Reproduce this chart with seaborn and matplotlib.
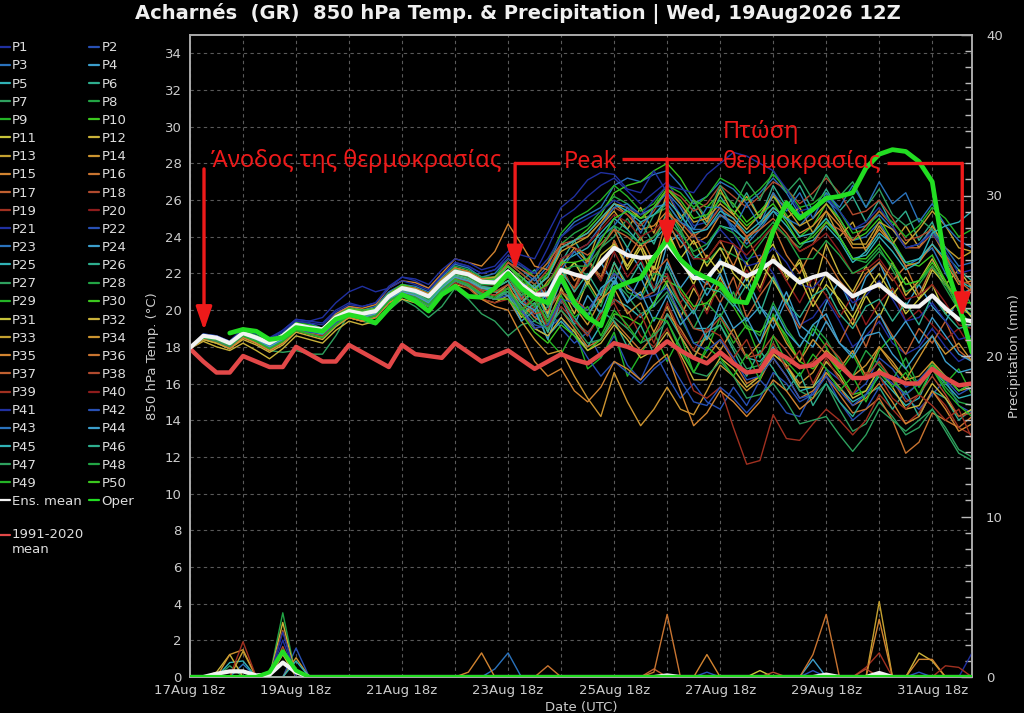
import numpy as np
import pandas as pd
import matplotlib
matplotlib.use("Agg")
import matplotlib.pyplot as plt
import matplotlib.dates as mdates
from matplotlib.lines import Line2D
from matplotlib.ticker import MultipleLocator
import seaborn as sns

# ---------------- data ----------------
start_time = "2026-08-17 18:00"
n_steps = 60
times = pd.date_range(start_time, periods=n_steps, freq="6h")

clim_mean = [17.9, 17.2, 16.6, 16.6, 17.5, 17.2, 16.9, 16.9, 18.0, 17.6, 17.2, 17.2,
             18.1, 17.7, 17.3, 16.9, 18.1, 17.6, 17.5, 17.4, 18.2, 17.7, 17.2, 17.5,
             17.8, 17.3, 16.8, 17.2, 17.6, 17.3, 17.1, 17.6, 18.2, 18.0, 17.7, 17.7,
             18.3, 17.8, 17.4, 17.1, 17.7, 17.1, 16.6, 16.7, 17.8, 17.4, 16.9, 17.0,
             17.6, 17.0, 16.3, 16.3, 16.6, 16.3, 16.0, 16.0, 16.8, 16.3, 15.9, 16.0]

ens_mean = [17.95, 18.6, 18.5, 18.2, 18.75, 18.5, 18.2, 18.6, 19.2, 19.05, 18.95, 19.6,
            19.95, 19.8, 19.95, 20.75, 21.2, 21.05, 20.75, 21.5, 22.1, 21.95, 21.55, 21.5,
            22.1, 21.4, 20.85, 20.85, 22.2, 21.95, 21.75, 22.6, 23.4, 23.0, 22.85, 22.9,
            23.6, 22.7, 21.75, 21.75, 22.6, 22.3, 21.85, 22.2, 22.7, 22.1, 21.5, 21.8,
            22.0, 21.4, 20.75, 21.1, 21.4, 20.8, 20.2, 20.2, 20.8, 20.1, 19.5, 19.4]

oper = [None, None, None, 18.75, 18.95, 18.85, 18.4, 18.5, 19.05, 18.95, 18.85, 19.5,
        19.75, 19.6, 19.3, 20.1, 20.85, 20.5, 19.95, 20.85, 21.3, 20.75, 20.7, 21.2,
        22.0, 21.2, 20.65, 20.4, 21.8, 20.4, 19.6, 19.15, 21.2, 21.5, 21.75, 22.85,
        23.85, 22.75, 22.1, 21.75, 21.4, 20.5, 20.4, 22.1, 24.3, 25.85, 25.0, 25.5,
        26.1, 26.2, 26.4, 27.75, 28.5, 28.75, 28.65, 28.1, 27.0, 22.5, 20.3, 17.7]

member_temp = [
 # P1
 [17.9,18.5,18.4,18.3, 19.0,18.8,18.4,18.9, 19.5,19.4,19.6,20.4, 21.0,21.3,21.0,21.2, 21.8,21.6,21.2,21.9,
  22.6,22.4,22.0,22.2, 23.0,22.5,22.0,23.4, 25.0,25.5,26.2,26.8, 27.2,26.5,25.8,26.4, 27.0,25.8,24.6,24.8,
  25.6,24.2,22.8,23.0, 22.0,20.4,19.2,19.6, 20.6,19.4,18.0,18.6, 19.4,18.2,17.6,18.0, 19.0,18.0,17.2,17.6],
 # P2
 [17.9,18.6,18.6,18.3, 18.8,18.6,18.1,18.5, 19.1,18.9,18.7,19.4, 19.7,19.5,19.8,20.6, 21.0,20.8,20.3,21.1,
  21.7,21.4,21.0,20.8, 21.4,20.8,19.6,20.2, 19.0,18.2,18.8,17.4, 18.6,17.0,16.2,17.8, 16.4,15.2,16.0,15.0,
  14.6,15.8,14.8,16.2, 15.4,14.4,14.2,15.6, 16.4,15.0,14.0,14.6, 15.8,16.4,15.2,14.6, 15.4,16.2,14.8,14.4],
 # P3
 [17.9,18.7,18.6,18.2, 18.9,18.6,18.3,18.7, 19.4,19.3,19.0,19.8, 20.2,20.0,20.2,21.0, 21.4,21.3,21.0,21.8,
  22.5,22.3,21.8,22.0, 22.8,22.2,21.6,22.4, 24.0,24.8,25.2,25.6, 26.8,27.2,27.0,27.4, 27.6,26.8,25.8,26.2,
  27.0,26.6,25.8,26.4, 27.2,26.4,25.2,25.4, 26.2,25.0,23.8,24.0, 24.8,23.6,22.4,22.8, 23.4,22.0,20.8,21.2],
 # P4
 [17.9,18.5,18.5,18.2, 18.7,18.4,18.2,18.6, 19.2,19.1,19.0,19.6, 20.0,19.9,20.0,20.9, 21.3,21.2,20.8,21.6,
  22.2,22.0,21.6,21.6, 22.0,20.6,21.4,19.8, 21.6,20.2,21.8,22.6, 21.4,23.4,22.2,21.0, 23.6,24.2,22.0,21.4,
  22.8,20.6,21.8,20.2, 19.4,21.0,19.2,18.6, 20.4,21.6,20.0,21.8, 22.6,21.0,20.2,21.4, 20.2,19.4,20.6,19.6],
 # P5
 [17.9,18.6,18.4,18.1, 18.6,18.3,18.0,18.4, 19.0,18.8,18.7,19.3, 19.6,19.4,19.6,20.4, 20.8,20.6,20.2,21.0,
  21.6,21.4,20.8,20.6, 21.2,20.2,19.0,18.6, 19.4,18.6,18.0,19.2, 20.6,20.2,19.6,20.4, 21.4,20.2,19.0,19.0,
  19.8,18.6,17.4,17.2, 18.0,16.8,15.6,15.8, 16.6,15.8,15.0,15.4, 16.4,15.6,14.8,15.2, 16.8,16.0,15.2,15.4],
 # P6
 [17.9,18.6,18.5,18.3, 18.8,18.5,18.3,18.7, 19.3,19.1,19.0,19.7, 20.0,19.8,20.0,20.8, 21.2,21.0,20.7,21.5,
  22.1,21.9,21.5,21.6, 22.4,21.6,22.2,20.8, 22.6,23.8,22.6,24.0, 24.6,23.4,24.8,23.6, 25.4,24.2,25.6,24.6,
  26.2,25.2,26.4,25.0, 26.8,25.6,26.8,25.4, 26.6,25.4,26.2,24.8, 26.0,24.6,25.4,23.8, 24.8,23.0,22.2,21.6],
 # P7
 [17.9,18.5,18.4,18.0, 18.6,18.2,17.8,17.7, 17.8,17.6,17.6,18.6, 19.8,19.4,19.2,20.0, 20.6,20.2,19.6,20.2,
  21.2,20.6,19.8,19.4, 18.6,19.2,19.4,20.2, 21.0,20.4,19.8,20.6, 21.6,20.8,19.8,20.2, 21.0,19.6,18.2,18.4,
  19.2,18.0,16.8,17.0, 18.2,17.0,15.6,15.2, 16.0,14.6,13.4,13.8, 15.0,14.2,13.2,13.6, 14.6,13.4,12.2,11.8],
 # P8
 [17.9,18.6,18.5,18.2, 18.8,18.6,18.3,18.6, 19.2,19.1,19.0,19.6, 20.0,19.9,20.1,20.9, 21.4,21.2,20.9,21.7,
  22.4,22.2,21.8,21.8, 22.6,22.0,21.4,22.0, 23.6,24.2,24.6,25.4, 26.2,25.8,25.0,25.2, 25.6,24.4,23.0,22.6,
  23.4,23.0,22.6,23.6, 24.6,24.0,23.4,24.2, 25.0,24.0,22.8,22.6, 23.4,22.2,21.0,21.4, 22.4,21.2,20.0,19.8],
 # P9
 [17.9,18.6,18.5,18.1, 18.6,18.4,18.0,18.5, 19.1,18.9,18.8,19.4, 19.8,19.6,19.8,20.6, 21.0,20.8,20.4,21.2,
  21.8,21.6,21.2,21.0, 21.0,19.6,20.2,18.4, 17.6,19.0,16.8,17.4, 18.8,16.4,17.6,18.8, 17.2,18.6,16.6,17.8,
  19.6,18.2,19.2,17.4, 19.8,18.4,17.2,19.0, 18.0,16.6,17.6,16.2, 17.8,18.6,16.8,15.8, 17.2,16.0,16.8,15.4],
 # P10
 [17.9,18.6,18.5,18.3, 18.9,18.6,18.3,18.7, 19.3,19.2,19.0,19.7, 20.1,20.0,20.1,20.9, 21.4,21.2,20.9,21.7,
  22.3,22.1,21.7,21.8, 22.4,21.6,21.0,22.0, 23.4,23.8,24.4,25.2, 26.4,26.8,27.0,27.6, 28.0,27.2,26.0,25.6,
  26.4,25.8,24.8,25.4, 26.2,25.2,24.0,24.6, 25.8,25.0,23.8,24.2, 25.0,23.8,22.6,22.4, 23.0,21.6,20.0,19.2],
 # P11
 [17.9,18.4,18.2,17.9, 18.6,18.3,17.9,18.4, 19.0,18.8,18.6,19.3, 19.7,19.6,19.7,20.5, 21.0,20.8,20.5,21.2,
  21.9,21.7,21.4,21.4, 22.0,20.8,21.2,19.8, 22.4,21.0,22.8,21.6, 23.8,22.2,23.4,21.6, 24.2,22.8,21.4,23.0,
  22.0,23.6,21.6,22.8, 23.6,21.8,22.6,20.6, 22.0,20.4,19.2,20.8, 19.6,21.2,19.8,20.6, 21.4,19.8,20.4,19.6],
 # P12
 [17.9,18.3,18.0,17.8, 18.2,17.8,17.35,17.9, 18.6,18.4,18.2,18.9, 19.4,19.2,19.4,20.2, 20.6,20.4,20.0,20.8,
  21.4,21.2,20.6,20.4, 20.8,19.6,20.4,18.8, 21.2,19.8,21.6,20.4, 22.6,21.2,20.8,22.4, 21.4,19.6,21.2,20.0,
  21.8,20.4,22.6,21.2, 23.0,21.6,22.8,21.0, 23.6,22.0,21.0,22.4, 21.2,22.6,20.8,21.6, 22.8,21.4,22.2,21.2],
 # P13
 [17.9,18.5,18.4,18.0, 18.7,18.4,18.1,18.5, 19.2,19.0,18.9,19.6, 19.9,19.7,19.9,20.7, 21.1,20.9,20.6,21.4,
  22.0,21.8,21.4,21.4, 22.2,21.4,20.6,21.6, 22.4,23.4,22.6,24.6, 25.4,24.4,25.6,24.2, 26.4,25.0,26.0,24.8,
  26.6,25.2,26.2,25.0, 26.4,25.0,25.6,24.2, 25.4,24.0,24.8,23.2, 24.6,23.6,24.6,23.4, 24.6,23.4,22.8,23.2],
 # P14
 [17.9,18.4,18.3,17.9, 18.5,18.2,17.8,18.2, 18.9,18.7,18.6,19.2, 19.6,19.4,19.6,20.4, 20.8,20.6,20.2,21.0,
  21.6,21.4,20.8,20.6, 20.6,19.4,18.4,17.6, 17.8,16.4,15.2,14.2, 16.6,15.0,13.7,14.6, 15.8,14.6,14.3,15.6,
  17.0,16.4,15.6,16.2, 17.6,17.0,16.0,16.6, 17.8,17.2,16.4,17.0, 18.0,17.2,16.2,16.4, 17.2,16.4,15.6,15.8],
 # P15
 [17.9,18.5,18.4,18.1, 18.8,18.5,18.2,18.6, 19.3,19.1,19.0,19.8, 20.2,20.1,20.3,21.2, 21.6,21.5,21.2,22.0,
  22.8,22.6,22.4,23.2, 24.7,23.6,22.4,22.2, 23.4,23.8,24.2,25.0, 25.8,25.2,24.4,24.6, 25.4,24.6,23.6,24.0,
  25.2,24.8,24.0,24.6, 25.6,25.0,24.2,24.6, 25.4,24.6,23.4,23.4, 24.4,23.6,22.4,22.6, 23.6,22.6,21.4,21.6],
 # P16
 [17.9,18.5,18.3,18.0, 18.6,18.3,17.9,18.3, 19.0,18.8,18.6,19.3, 19.7,19.5,19.7,20.5, 20.9,20.7,20.3,21.1,
  21.7,21.5,21.0,20.8, 21.2,20.4,19.6,19.2, 20.0,19.0,18.0,18.4, 19.4,18.6,17.8,18.6, 19.8,19.0,17.8,17.4,
  18.4,17.2,16.0,16.4, 17.4,16.4,15.2,15.6, 16.4,15.4,14.4,14.6, 15.2,14.0,12.2,12.8, 14.4,14.0,13.6,14.2],
 # P17
 [17.9,18.5,18.3,18.0, 18.6,18.4,18.0,18.4, 19.0,18.8,18.7,19.4, 19.8,19.6,19.8,20.6, 21.0,20.8,20.4,21.2,
  21.8,21.6,21.2,21.2, 21.8,20.6,21.4,19.6, 22.0,21.2,22.8,21.8, 23.8,22.4,23.6,22.0, 22.8,21.0,20.0,21.6,
  20.4,21.8,19.6,20.8, 21.8,20.2,19.0,20.6, 19.4,18.2,19.6,18.0, 19.8,18.6,17.6,19.0, 18.2,19.4,17.8,17.2],
 # P18
 [17.9,18.6,18.5,18.2, 18.8,18.5,18.2,18.6, 19.2,19.0,18.9,19.6, 19.9,19.8,20.0,20.8, 21.2,21.0,20.7,21.5,
  22.1,21.9,21.5,21.6, 22.6,22.0,21.4,22.2, 23.6,23.8,24.0,24.8, 25.6,25.2,24.6,25.4, 26.6,26.2,25.4,25.8,
  26.8,26.2,25.6,26.2, 27.0,26.6,25.8,26.4, 27.2,26.4,25.2,25.4, 26.0,25.0,23.8,24.0, 24.4,23.0,21.6,21.4],
 # P19
 [17.9,18.4,18.3,18.0, 18.6,18.3,17.9,18.3, 18.9,18.7,18.5,19.2, 19.6,19.4,19.6,20.4, 20.8,20.6,20.2,21.0,
  21.5,21.2,20.6,20.4, 20.6,19.8,19.0,19.2, 20.2,19.4,18.8,19.6, 20.6,20.0,18.6,18.0, 19.0,17.4,15.6,15.2,
  15.8,13.6,11.6,11.8, 14.3,13.0,12.9,13.8, 14.6,14.0,13.2,14.0, 15.4,14.6,13.8,14.4, 15.6,14.8,13.6,13.2],
 # P20
 [17.9,18.6,18.5,18.2, 18.7,18.5,18.2,18.5, 19.1,19.0,18.9,19.5, 19.9,19.7,19.9,20.7, 21.1,21.0,20.6,21.4,
  22.0,21.8,21.4,21.4, 21.8,21.0,20.0,21.4, 22.4,21.0,22.6,21.6, 23.2,21.8,22.8,21.2, 22.0,20.4,21.4,19.8,
  21.6,20.6,22.2,21.0, 22.8,21.6,20.4,21.8, 20.8,19.6,20.8,19.2, 20.4,21.2,19.4,20.0, 19.2,18.4,19.0,17.8],
 # P21
 [17.9,18.6,18.5,18.3, 18.9,18.7,18.4,18.8, 19.4,19.3,19.2,19.9, 20.3,20.2,20.4,21.3, 21.8,21.7,21.4,22.2,
  22.8,22.6,22.2,22.4, 23.2,23.0,22.8,24.2, 25.6,26.2,27.1,27.5, 27.4,26.6,26.4,27.6, 26.4,25.2,24.0,23.6,
  24.4,23.6,22.4,22.6, 23.4,22.6,21.4,21.2, 22.0,21.4,20.4,20.8, 21.6,20.6,19.4,19.6, 20.4,19.4,18.4,18.6],
 # P22
 [17.9,18.5,18.4,18.1, 18.7,18.5,18.1,18.4, 19.0,18.8,18.6,19.3, 19.7,19.5,19.7,20.5, 20.9,20.6,20.2,21.0,
  21.6,21.3,20.8,20.6, 20.8,20.0,19.2,19.0, 19.6,18.6,17.4,16.4, 17.2,16.6,16.0,16.8, 17.4,16.2,15.0,14.8,
  15.8,15.2,14.4,15.2, 16.6,16.0,15.0,15.4, 16.8,16.2,15.4,16.0, 17.4,16.8,15.8,16.2, 17.0,16.4,15.6,16.0],
 # P23
 [17.9,18.6,18.5,18.2, 18.8,18.6,18.2,18.6, 19.2,19.0,18.9,19.6, 20.0,19.8,20.0,20.8, 21.3,21.1,20.8,21.6,
  22.2,22.0,21.6,21.6, 22.0,21.4,20.8,21.4, 22.8,23.2,23.6,24.6, 25.6,25.8,25.2,25.6, 26.4,25.6,24.4,24.4,
  25.2,24.6,23.6,24.4, 25.4,25.0,24.6,25.4, 26.0,25.4,24.4,24.6, 25.2,24.4,23.4,23.6, 24.4,23.4,22.4,22.6],
 # P24
 [17.9,18.5,18.5,18.2, 18.7,18.5,18.1,18.5, 19.1,18.9,18.8,19.5, 19.9,19.7,19.9,20.7, 21.1,20.9,20.5,21.3,
  21.9,21.7,21.2,21.0, 20.8,19.4,20.0,18.4, 20.6,19.2,20.8,19.8, 21.6,20.4,21.8,20.2, 22.6,21.2,22.2,20.8,
  22.0,20.4,19.4,20.2, 19.0,20.6,18.6,18.0, 19.4,18.2,17.6,19.0, 19.8,18.4,19.4,18.2, 19.6,18.6,17.6,17.2],
 # P25
 [17.9,18.6,18.5,18.2, 18.8,18.5,18.2,18.6, 19.2,19.1,18.9,19.6, 20.0,19.8,20.0,20.8, 21.2,21.0,20.7,21.5,
  22.2,22.0,21.5,21.6, 22.2,21.4,20.6,21.0, 22.6,23.0,23.4,24.2, 25.0,24.4,23.6,23.8, 24.6,23.8,22.8,23.4,
  24.6,24.4,23.8,24.6, 25.4,24.6,23.6,23.8, 24.6,23.8,22.6,23.2, 24.2,23.6,22.6,22.8, 23.6,22.8,21.6,21.2],
 # P26
 [17.9,18.5,18.4,18.1, 18.6,18.4,18.0,18.4, 19.0,18.8,18.7,19.4, 19.8,19.6,19.8,20.6, 21.0,20.8,20.4,21.2,
  21.8,21.5,21.0,20.8, 21.0,19.8,20.4,18.8, 20.6,19.6,18.6,20.0, 19.4,18.0,19.2,17.6, 19.8,18.6,17.4,18.8,
  19.2,17.8,16.4,17.8, 16.8,15.6,16.6,14.8, 16.0,15.0,14.2,15.4, 15.8,14.6,15.6,14.2, 15.6,15.2,14.0,14.6],
 # P27
 [17.9,18.6,18.5,18.2, 18.8,18.5,18.2,18.6, 19.2,19.0,18.9,19.6, 20.0,19.8,20.0,20.8, 21.2,21.0,20.7,21.5,
  22.1,21.9,21.5,21.4, 21.8,20.8,21.4,20.2, 21.6,22.6,21.8,23.4, 24.0,25.0,23.8,25.2, 25.8,24.8,26.0,25.0,
  26.8,25.6,27.0,26.0, 27.6,26.4,27.2,26.0, 27.4,26.2,27.0,25.6, 26.6,25.2,24.6,25.0, 24.4,22.8,21.6,20.2],
 # P28
 [17.9,18.5,18.4,18.2, 18.7,18.4,18.1,18.5, 19.1,18.9,18.8,19.4, 19.8,19.7,19.8,20.6, 21.0,20.8,20.5,21.3,
  21.9,21.6,21.1,21.0, 21.2,20.0,20.8,19.2, 21.0,20.4,21.4,20.2, 22.2,21.0,20.6,22.0, 21.8,20.2,19.0,20.4,
  19.6,21.0,19.2,18.6, 20.4,19.0,18.0,19.2, 18.4,17.2,16.4,17.8, 17.0,16.2,17.4,15.8, 16.8,15.8,15.0,14.8],
 # P29
 [17.9,18.6,18.5,18.3, 18.9,18.6,18.3,18.7, 19.3,19.2,19.0,19.7, 20.1,19.9,20.1,20.9, 21.3,21.2,20.9,21.7,
  22.3,22.1,21.7,21.8, 22.8,22.4,21.8,22.6, 24.2,25.0,25.4,26.0, 26.8,26.2,25.4,25.8, 26.8,26.4,25.6,26.2,
  27.2,26.8,26.0,26.6, 27.4,26.6,25.6,25.8, 26.4,25.4,24.2,24.4, 25.4,24.8,24.0,24.6, 25.6,25.0,24.0,24.4],
 # P30
 [17.9,18.5,18.4,18.1, 18.6,18.3,18.0,18.4, 19.0,18.8,18.6,19.3, 19.7,19.5,19.7,20.5, 20.9,20.7,20.3,21.1,
  21.7,21.4,20.9,20.6, 20.6,19.8,18.8,18.2, 19.2,18.6,17.8,18.4, 19.8,19.6,19.2,20.4, 21.6,21.2,20.2,20.4,
  21.2,20.2,19.0,18.8, 19.6,18.6,17.2,16.8, 17.6,16.6,15.4,15.6, 16.8,16.2,15.4,16.0, 17.0,16.4,15.6,16.0],
 # P31
 [17.9,18.5,18.3,18.0, 18.6,18.3,17.9,18.3, 19.0,18.8,18.6,19.3, 19.8,19.6,19.8,20.6, 21.0,20.8,20.4,21.2,
  21.9,21.7,21.2,21.2, 21.6,20.4,21.2,19.8, 21.8,22.6,21.4,23.0, 23.6,22.4,23.6,22.2, 24.4,22.8,23.8,22.4,
  23.4,22.0,21.2,22.6, 21.6,20.4,21.8,20.2, 21.4,20.6,19.6,21.0, 22.0,20.8,21.8,20.6, 22.2,21.4,20.6,21.2],
 # P32
 [17.9,18.4,18.2,17.9, 18.4,18.1,17.7,18.1, 18.8,18.6,18.4,19.1, 19.6,19.4,19.6,20.4, 20.8,20.6,20.2,21.0,
  21.6,21.4,20.8,20.6, 21.0,20.0,19.0,18.6, 19.6,18.8,17.8,18.2, 19.2,18.4,17.4,17.8, 18.8,17.6,16.2,16.2,
  17.4,16.8,15.8,16.4, 17.6,17.0,15.8,15.8, 17.2,16.4,15.2,15.6, 16.8,15.8,14.6,14.8, 16.0,15.2,14.2,14.6],
 # P33
 [17.9,18.6,18.4,18.1, 18.8,18.5,18.2,18.6, 19.2,19.0,18.9,19.6, 20.0,19.9,20.1,20.9, 21.3,21.1,20.8,21.6,
  22.3,22.1,21.7,21.8, 22.4,21.8,21.2,21.8, 23.2,23.6,24.0,24.8, 25.8,25.6,25.0,25.6, 26.6,25.8,24.8,25.0,
  25.8,25.2,24.4,25.2, 26.2,25.6,24.6,25.0, 25.8,24.8,23.6,23.6, 24.8,24.4,23.6,24.4, 25.4,24.6,23.4,23.2],
 # P34
 [17.9,18.5,18.3,18.0, 18.6,18.3,17.9,18.3, 18.9,18.7,18.5,19.2, 19.7,19.5,19.7,20.5, 20.9,20.7,20.3,21.1,
  21.7,21.4,21.0,20.8, 21.4,20.0,20.6,19.4, 21.0,20.2,19.2,20.6, 21.2,19.8,20.4,18.8, 20.2,18.6,17.4,18.6,
  17.8,19.0,17.4,18.2, 19.6,18.2,17.2,18.4, 17.6,16.8,17.8,16.4, 18.0,17.0,16.2,17.4, 18.6,17.6,18.2,17.2],
 # P35
 [17.9,18.5,18.3,17.9, 18.5,18.2,17.8,18.2, 18.9,18.7,18.5,19.2, 19.6,19.4,19.6,20.4, 20.8,20.6,20.2,21.0,
  21.6,21.3,20.6,20.2, 20.0,18.6,17.2,16.4, 16.8,15.6,15.0,15.8, 17.2,16.8,16.2,17.0, 17.6,15.6,13.7,14.4,
  15.6,15.0,14.2,15.0, 16.2,15.6,14.6,15.2, 16.6,15.8,14.8,15.2, 16.0,15.0,13.8,14.2, 15.6,14.6,13.4,13.8],
 # P36
 [17.9,18.6,18.5,18.2, 18.8,18.5,18.2,18.6, 19.2,19.1,18.9,19.7, 20.1,19.9,20.1,20.9, 21.3,21.2,20.9,21.7,
  22.3,22.1,21.7,21.7, 22.2,21.0,21.8,20.6, 22.8,21.6,22.4,23.4, 24.4,22.8,24.0,22.6, 25.0,23.4,24.2,22.8,
  23.8,22.4,24.0,22.6, 24.6,23.0,22.0,23.4, 22.8,21.6,20.8,22.0, 22.6,21.6,22.4,20.8, 22.4,21.4,20.6,21.2],
 # P37
 [17.9,18.6,18.5,18.2, 18.8,18.5,18.2,18.6, 19.2,19.0,18.9,19.6, 20.0,19.8,20.0,20.8, 21.2,21.0,20.7,21.5,
  22.2,22.0,21.6,21.6, 22.6,22.2,21.8,22.6, 23.6,23.4,23.0,23.6, 24.4,24.0,23.4,24.0, 25.2,24.8,24.0,24.6,
  25.6,25.0,24.0,24.4, 25.0,24.2,23.2,23.6, 24.8,24.4,23.8,24.6, 25.4,24.6,23.4,23.4, 24.2,23.0,21.6,21.0],
 # P38
 [17.9,18.5,18.4,18.1, 18.7,18.4,18.0,18.4, 19.0,18.8,18.7,19.4, 19.8,19.6,19.8,20.6, 21.0,20.8,20.4,21.2,
  21.8,21.6,21.1,21.0, 21.4,20.6,19.8,20.0, 21.0,20.6,20.0,20.8, 22.0,21.4,20.6,21.0, 21.8,20.4,19.0,18.8,
  19.6,18.6,17.4,17.6, 18.6,17.8,16.8,17.2, 18.2,17.4,16.2,16.4, 17.2,16.2,15.0,15.4, 16.4,15.4,14.2,14.4],
 # P39
 [17.9,18.5,18.3,18.0, 18.6,18.3,17.9,18.3, 18.9,18.7,18.6,19.3, 19.7,19.5,19.7,20.5, 20.9,20.7,20.3,21.1,
  21.7,21.5,21.0,20.8, 21.2,20.0,20.8,19.0, 20.6,19.4,18.6,19.8, 20.4,19.0,19.8,18.2, 20.4,18.8,17.8,19.0,
  18.6,17.4,18.4,16.8, 18.2,16.8,17.8,16.0, 17.4,16.2,15.4,16.6, 16.4,15.2,14.6,15.4, 14.8,14.0,14.6,13.0],
 # P40
 [17.9,18.6,18.5,18.2, 18.8,18.5,18.2,18.6, 19.2,19.0,18.9,19.6, 19.9,19.8,20.0,20.8, 21.2,21.0,20.7,21.5,
  22.1,21.9,21.5,21.5, 22.0,21.4,20.8,21.4, 22.8,23.2,23.6,24.4, 25.2,24.8,24.0,24.4, 25.0,24.0,22.8,22.8,
  23.8,23.6,23.0,23.8, 24.6,24.0,23.2,23.6, 24.2,23.2,22.0,22.2, 22.8,21.8,20.6,20.8, 21.4,20.4,19.2,19.0],
 # P41
 [17.9,18.7,18.6,18.3, 19.0,18.8,18.5,18.9, 19.5,19.4,19.3,20.0, 20.4,20.2,20.4,21.2, 21.6,21.4,21.1,21.9,
  22.6,22.4,22.0,22.2, 22.8,22.4,22.0,22.8, 24.0,24.6,25.0,25.4, 26.0,25.6,25.2,26.0, 26.8,26.6,26.4,27.4,
  28.0,28.6,28.4,28.0, 27.6,26.6,25.4,25.6, 26.2,25.4,24.4,24.8, 25.6,24.6,23.4,23.6, 24.2,23.2,22.0,22.2],
 # P42
 [17.9,18.5,18.4,18.1, 18.6,18.4,18.0,18.4, 19.0,18.8,18.7,19.3, 19.7,19.5,19.7,20.5, 20.9,20.7,20.3,21.1,
  21.6,21.4,20.8,20.6, 21.0,20.0,19.0,19.2, 20.6,20.4,20.0,21.0, 22.0,21.4,20.6,20.8, 21.2,19.8,18.2,17.8,
  18.4,17.4,16.2,16.4, 17.4,16.4,15.2,15.4, 16.4,15.6,14.8,15.4, 16.6,16.0,15.4,16.0, 16.8,16.2,15.4,15.8],
 # P43
 [17.9,18.6,18.5,18.2, 18.8,18.6,18.2,18.6, 19.2,19.1,19.0,19.7, 20.0,19.9,20.1,20.9, 21.2,21.1,20.8,21.6,
  22.2,22.0,21.6,21.6, 22.2,21.2,21.8,20.4, 22.2,23.2,22.4,24.0, 24.6,25.6,24.2,25.6, 25.8,24.8,24.4,25.6,
  25.6,24.4,25.8,24.6, 26.4,25.4,26.4,25.0, 26.4,25.6,26.8,25.6, 27.0,25.8,26.4,24.8, 25.8,24.6,23.8,23.4],
 # P44
 [17.9,18.5,18.4,18.1, 18.7,18.4,18.0,18.4, 19.0,18.9,18.7,19.4, 19.8,19.6,19.8,20.6, 21.0,20.8,20.4,21.2,
  21.8,21.6,21.2,21.2, 21.6,20.4,20.0,21.0, 21.6,20.2,19.6,21.2, 21.8,20.4,21.0,19.4, 20.8,19.2,20.0,18.4,
  20.4,19.0,19.6,18.2, 20.2,18.8,18.0,19.2, 19.8,18.2,17.4,18.6, 18.8,17.6,16.8,17.8, 18.6,17.2,16.6,16.8],
 # P45
 [17.9,18.6,18.5,18.2, 18.8,18.5,18.2,18.6, 19.2,19.0,18.9,19.6, 20.0,19.9,20.0,20.8, 21.2,21.1,20.7,21.5,
  22.2,22.0,21.6,21.7, 22.4,21.8,21.2,21.8, 23.4,23.8,24.2,25.0, 25.8,25.4,24.8,25.2, 26.0,25.2,24.2,24.4,
  25.4,25.0,24.2,24.8, 25.6,25.0,24.0,24.2, 25.0,24.0,22.8,23.0, 24.0,23.2,22.2,22.6, 24.2,24.6,24.8,25.4],
 # P46
 [17.9,18.5,18.4,18.1, 18.7,18.4,18.1,18.5, 19.1,18.9,18.8,19.5, 19.9,19.7,19.9,20.7, 21.1,20.9,20.5,21.3,
  21.9,21.7,21.3,21.2, 21.6,20.4,21.0,19.6, 22.2,21.0,22.0,20.8, 22.6,21.4,22.6,21.0, 22.4,20.8,19.8,21.2,
  21.0,20.2,21.4,19.8, 21.8,20.4,19.6,20.8, 21.2,19.8,19.0,20.2, 20.6,19.4,20.4,19.2, 20.8,19.8,19.0,19.2],
 # P47
 [17.9,18.5,18.3,18.0, 18.6,18.3,17.9,18.3, 18.9,18.7,18.5,19.2, 19.7,19.5,19.7,20.5, 20.9,20.6,20.2,21.0,
  21.6,21.3,20.8,20.6, 21.0,20.2,19.4,19.0, 20.0,19.2,18.2,18.4, 19.6,19.0,18.2,18.6, 19.4,18.0,16.6,16.4,
  17.2,16.4,15.2,15.4, 16.0,15.0,13.8,14.0, 14.2,13.2,12.3,13.2, 14.6,14.0,13.4,14.0, 14.6,13.6,12.4,12.0],
 # P48
 [17.9,18.6,18.5,18.2, 18.8,18.5,18.2,18.6, 19.2,19.0,18.9,19.6, 20.0,19.8,20.0,20.8, 21.2,21.0,20.6,21.4,
  22.0,21.8,21.4,21.4, 21.8,21.0,20.2,20.6, 22.2,22.4,22.4,23.4, 24.6,24.2,23.6,24.0, 24.8,24.2,23.2,23.6,
  24.6,24.2,23.4,24.0, 24.8,24.0,22.8,22.8, 23.8,23.0,22.0,22.4, 23.2,22.4,21.4,21.6, 22.4,21.4,20.2,20.0],
 # P49
 [17.9,18.5,18.4,18.1, 18.6,18.3,17.9,18.3, 18.9,18.7,18.5,19.2, 19.7,19.5,19.7,20.5, 20.9,20.7,20.3,21.1,
  21.7,21.4,20.9,20.7, 21.2,20.0,20.6,19.4, 20.8,19.6,20.2,18.6, 20.0,19.2,18.2,19.6, 19.4,17.8,16.6,18.0,
  17.4,16.4,17.6,16.2, 18.6,17.2,16.4,17.6, 16.8,15.6,16.4,15.0, 16.6,15.8,16.6,15.4, 16.8,15.6,14.8,14.2],
 # P50
 [17.9,18.6,18.5,18.2, 18.8,18.6,18.2,18.6, 19.3,19.1,19.0,19.7, 20.1,19.9,20.1,20.9, 21.3,21.1,20.8,21.6,
  22.2,22.0,21.6,21.7, 22.4,21.8,21.0,21.4, 22.6,22.6,22.8,23.8, 25.0,25.4,25.0,25.6, 26.6,26.0,25.0,25.2,
  26.0,25.4,24.6,25.2, 25.8,24.8,23.6,24.0, 24.8,24.0,22.8,22.8, 23.6,22.6,21.4,21.6, 22.6,21.6,20.4,20.4],
]

# precipitation events (member number, 6-hourly step, mm); all other steps are 0 mm
precip_member = [19, 14, 14, 13, 5, 5, 3, 7, 12, 12,
                 8, 12, 17, 21, 41, 2, 14, 38, 31, 45,
                 15, 15, 3, 3, 16, 36, 36, 17, 15, 22,
                 11, 18, 4, 16, 16, 2, 13, 35, 19, 19,
                 38, 12, 12, 15, 15, 39, 39, 1, 42]
precip_step = [4, 3, 4, 4, 3, 4, 4, 3, 2, 3,
               7, 7, 7, 7, 7, 8, 8, 7, 7, 8,
               21, 22, 23, 24, 27, 35, 36, 35, 39, 39,
               43, 44, 47, 47, 48, 47, 52, 52, 51, 52,
               51, 55, 56, 55, 56, 57, 58, 59, 55]
precip_mm = [2.2, 1.4, 1.7, 1.6, 0.9, 1.0, 0.8, 0.7, 0.3, 1.4,
             4.0, 3.4, 2.9, 2.8, 2.3, 1.8, 1.2, 1.9, 1.4, 1.0,
             0.3, 1.5, 0.5, 1.5, 0.7, 0.3, 3.9, 0.5, 1.4, 0.3,
             0.4, 0.3, 1.1, 1.4, 3.9, 0.4, 4.7, 3.6, 0.6, 1.5,
             0.5, 1.5, 1.0, 1.1, 1.1, 0.7, 0.6, 1.5, 0.3]
mean_precip_step = [2, 3, 4, 5, 6, 7, 8, 36, 48, 52]
mean_precip_mm = [0.2, 0.35, 0.35, 0.1, 0.15, 0.9, 0.3, 0.1, 0.15, 0.25]
oper_precip_step = [6, 7, 8]
oper_precip_mm = [0.3, 1.6, 0.4]

member_labels = [f"P{i}" for i in range(1, 51)]
palette20 = ["#2030a0", "#2850b4", "#2a72bc", "#3c9ecc", "#30b2b6", "#2eae8e", "#2ea05e", "#22a444",
             "#24b426", "#3cc81e", "#c8c43a", "#cab23a", "#c4a030", "#cc9430", "#d28430", "#c87430",
             "#c06030", "#b04a2e", "#a03020", "#8e1c1c"]
member_colors = [palette20[i % 20] for i in range(50)]

xtick_times = pd.date_range(start_time, periods=8, freq="2D")

# ---------------- build tables ----------------
temp_long = pd.DataFrame({
    "time": np.tile(times, 50),
    "member": np.repeat(member_labels, n_steps),
    "temp": np.concatenate([np.asarray(r, dtype=float) for r in member_temp]),
})
precip_arr = np.zeros((50, n_steps))
for m, s, v in zip(precip_member, precip_step, precip_mm):
    precip_arr[m - 1, s] = v
precip_long = pd.DataFrame({
    "time": np.tile(times, 50),
    "member": np.repeat(member_labels, n_steps),
    "precip": precip_arr.ravel(),
})
mean_precip = np.zeros(n_steps)
mean_precip[mean_precip_step] = mean_precip_mm
oper_precip = np.zeros(n_steps)
oper_precip[oper_precip_step] = oper_precip_mm
oper_arr = np.array([np.nan if v is None else v for v in oper], dtype=float)

# ---------------- style ----------------
sns.set_theme(style="dark")
plt.rcParams.update({
    "figure.facecolor": "black", "axes.facecolor": "black", "savefig.facecolor": "black",
    "text.color": "#dddddd", "axes.labelcolor": "#cccccc",
    "xtick.color": "#cccccc", "ytick.color": "#cccccc",
})
plt.rcParams["font.family"] = ["DejaVu Sans"]

fig = plt.figure(figsize=(10.24, 7.13), dpi=100)
ax = fig.add_axes([190 / 1024, 1 - 677 / 713, (972 - 190) / 1024, (677 - 35) / 713])
ax2 = ax.twinx()

# temperature members
sns.lineplot(data=temp_long, x="time", y="temp", hue="member", hue_order=member_labels,
             palette=member_colors, estimator=None, linewidth=1.0, legend=False, ax=ax, zorder=2)
sns.lineplot(x=times, y=clim_mean, color="#e24848", linewidth=3.2, ax=ax, zorder=3)
sns.lineplot(x=times, y=ens_mean, color="#f2f2f2", linewidth=3.0, ax=ax, zorder=4)
sns.lineplot(x=times, y=oper_arr, color="#22dd22", linewidth=3.4, ax=ax, zorder=5)

# precipitation on right axis
sns.lineplot(data=precip_long, x="time", y="precip", hue="member", hue_order=member_labels,
             palette=member_colors, estimator=None, linewidth=1.0, legend=False, ax=ax2, zorder=2)
sns.lineplot(x=times, y=mean_precip, color="#f2f2f2", linewidth=3.0, ax=ax2, zorder=4)
sns.lineplot(x=times, y=oper_precip, color="#22dd22", linewidth=3.0, ax=ax2, zorder=5)

# axes
ax.set_xlim(times[0], times[-1])
ax.set_ylim(0, 35)
ax.set_yticks(np.arange(0, 35, 2))
ax2.set_ylim(0, 40)
ax2.yaxis.set_major_locator(MultipleLocator(10))
ax2.yaxis.set_minor_locator(MultipleLocator(1))
ax.set_xticks(xtick_times)
ax.xaxis.set_minor_locator(mdates.HourLocator(byhour=18))
ax.xaxis.set_major_formatter(mdates.DateFormatter("%d%b %Hz"))
ax.grid(True, which="both", axis="x", color="#5a5a5a", linestyle=(0, (3, 3)), linewidth=0.8)
ax.grid(True, which="major", axis="y", color="#5a5a5a", linestyle=(0, (3, 3)), linewidth=0.8)
ax2.grid(False)
ax.tick_params(axis="both", which="both", length=0, labelsize=9.5, colors="#cccccc")
ax.tick_params(axis="y", pad=6)
ax.tick_params(axis="x", pad=5)
ax2.tick_params(axis="y", which="major", direction="in", length=8, width=1, colors="#bbbbbb",
                labelsize=9.5, pad=10, labelcolor="#cccccc")
ax2.tick_params(axis="y", which="minor", direction="in", length=5, width=1, colors="#bbbbbb")
for a in (ax, ax2):
    for sp in a.spines.values():
        sp.set_color("#aaaaaa")
        sp.set_linewidth(1.2)
ax.set_xlabel("Date (UTC)", fontsize=9.5, labelpad=3, color="#cccccc")
ax.set_ylabel("850 hPa Temp. (°C)", fontsize=9.5, labelpad=4, color="#cccccc")
ax2.set_ylabel("Precipitation (mm)", fontsize=9.5, labelpad=4, color="#cccccc")

fig.text(0.506, 0.981, "Acharnés  (GR)  850 hPa Temp. & Precipitation | Wed, 19Aug2026 12Z",
         ha="center", va="center", fontsize=14, fontweight="bold", color="#f0f0f0")

# annotations
red = "#ee1a1a"
t0 = pd.Timestamp(start_time)
def xpx(px):
    return mdates.date2num(t0 + pd.Timedelta(days=(px - 190) / 53.0))

k = 40 / 35
arrow_kw = dict(arrowstyle="-|>,head_length=0.7,head_width=0.24", color=red, lw=2.4,
                mutation_scale=20, shrinkA=0, shrinkB=0)
ax2.annotate("", xy=(xpx(204), 18.9 * k), xytext=(xpx(204), 27.7 * k), arrowprops=arrow_kw, zorder=20)
ax2.annotate("", xy=(xpx(515), 22.2 * k), xytext=(xpx(515), 28.0 * k), arrowprops=arrow_kw, zorder=20)
ax2.annotate("", xy=(xpx(667), 23.5 * k), xytext=(xpx(667), 28.25 * k), arrowprops=arrow_kw, zorder=20)
ax2.annotate("", xy=(xpx(962), 19.6 * k), xytext=(xpx(962), 28.0 * k), arrowprops=arrow_kw, zorder=20)
ax2.plot([xpx(513.8), xpx(560)], [28.0 * k] * 2, color=red, lw=2.4, zorder=20, solid_capstyle="butt")
ax2.plot([xpx(622), xpx(722)], [28.25 * k] * 2, color=red, lw=2.4, zorder=20, solid_capstyle="butt")
ax2.plot([xpx(887), xpx(963.2)], [28.0 * k] * 2, color=red, lw=2.4, zorder=20, solid_capstyle="butt")

txt_kw = dict(color=red, fontsize=17, family=["Noto Sans", "DejaVu Sans"], va="baseline", ha="left", zorder=21)
ax2.text(xpx(211), 27.8 * k, "Άνοδος της θερμοκρασίας", **txt_kw)
ax2.text(xpx(564), 27.75 * k, "Peak", **txt_kw)
ax2.text(xpx(723), 29.4 * k, "Πτώση", **txt_kw)
ax2.text(xpx(723), 27.75 * k, "θερμοκρασίας", **txt_kw)

# legend
col1 = [(member_colors[i], member_labels[i]) for i in range(0, 50, 2)]
col1 += [("#f2f2f2", "Ens. mean"), ("#e24848", "\n1991-2020\nmean")]
col2 = [(member_colors[i], member_labels[i]) for i in range(1, 50, 2)]
col2 += [("#22dd22", "Oper")]
entries = col1 + col2
handles = [Line2D([0], [0], color=c, lw=1.6) for c, _ in entries]
labels = [l for _, l in entries]
leg = fig.legend(handles, labels, loc="upper left", bbox_to_anchor=(0.0, 0.942), ncol=2,
                 frameon=False, fontsize=9.5, handlelength=0.75, handletextpad=0.15,
                 labelspacing=0.39, columnspacing=0.4, borderaxespad=0, borderpad=0)
for t in leg.get_texts():
    t.set_color("#dddddd")

fig.savefig("out.png", dpi=100, facecolor="black")
